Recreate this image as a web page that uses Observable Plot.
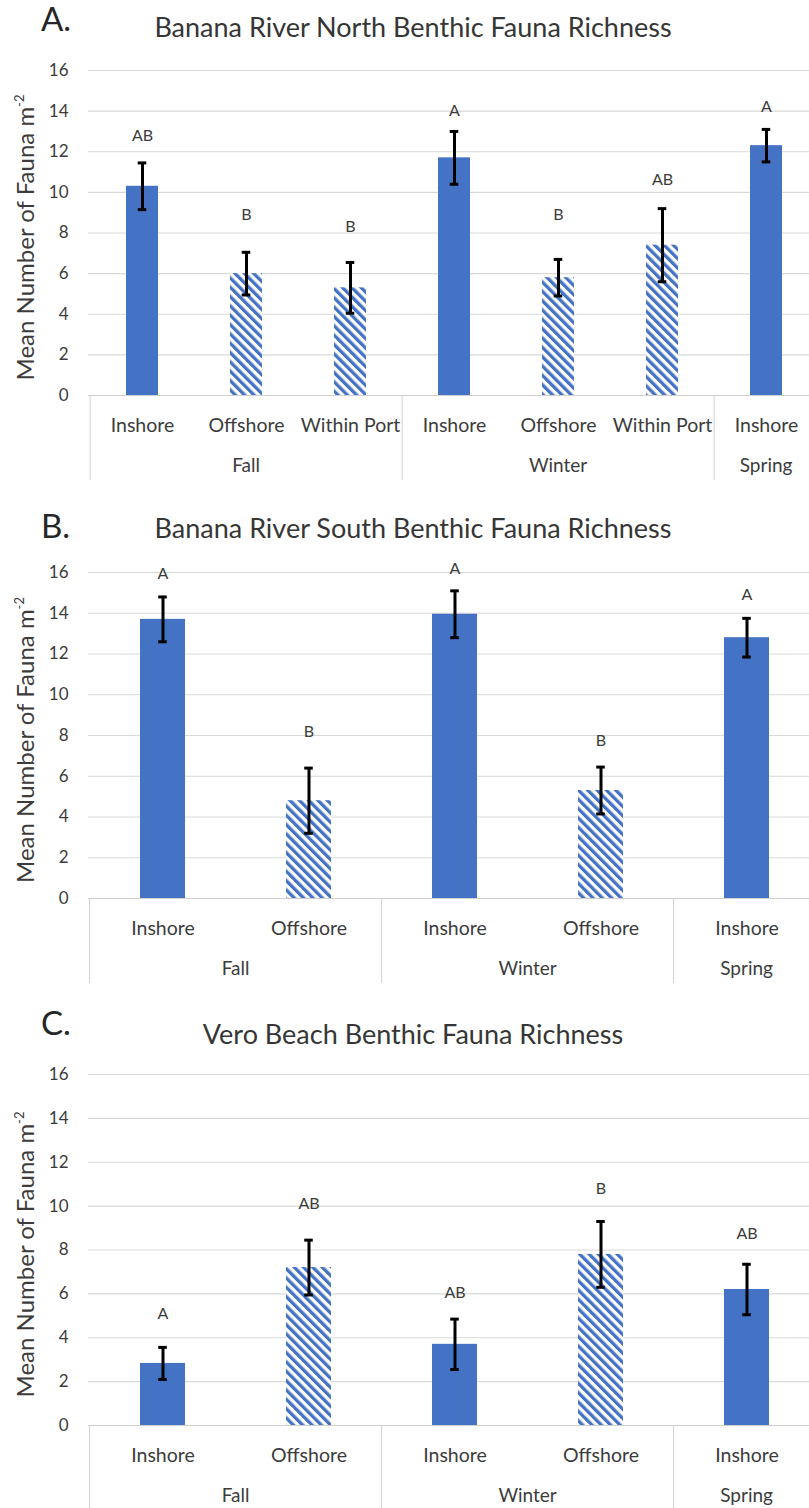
<!DOCTYPE html>
<html><head><meta charset="utf-8">
<script src="https://cdn.jsdelivr.net/npm/d3@7"></script>
<script src="https://cdn.jsdelivr.net/npm/@observablehq/plot@0.6"></script>
<style>
html,body{margin:0;padding:0;background:#fff;}
body{width:809px;height:1508px;overflow:hidden;position:relative;font-family:Lato,"Open Sans",sans-serif;}
.panel{position:absolute;left:0;width:809px;}
.plabel{position:absolute;left:41px;font-size:33px;line-height:33px;color:#262626;}
.ptitle{position:absolute;left:413px;transform:translateX(-50%);font-size:27px;line-height:27px;color:#363636;white-space:nowrap;}
</style></head><body>
<script>
// ---------- data ----------
const yTicks = [0, 2, 4, 6, 8, 10, 12, 14, 16];

const titleA = "Banana River North Benthic Fauna Richness";
const seasonsA = ["Fall", "Fall", "Fall", "Winter", "Winter", "Winter", "Spring"];
const sitesA = ["Inshore", "Offshore", "Within Port", "Inshore", "Offshore", "Within Port", "Inshore"];
const meansA = [10.3, 6.0, 5.3, 11.7, 5.8, 7.4, 12.3];
const errsA = [1.15, 1.05, 1.25, 1.3, 0.9, 1.8, 0.8];
const lettersA = ["AB", "B", "B", "A", "B", "AB", "A"];
const letterYA = [12.8, 8.9, 8.3, 14.0, 8.9, 10.6, 14.2];

const titleB = "Banana River South Benthic Fauna Richness";
const seasonsB = ["Fall", "Fall", "Winter", "Winter", "Spring"];
const sitesB = ["Inshore", "Offshore", "Inshore", "Offshore", "Inshore"];
const meansB = [13.7, 4.8, 13.95, 5.3, 12.8];
const errsB = [1.1, 1.6, 1.15, 1.15, 0.95];
const lettersB = ["A", "B", "A", "B", "A"];
const letterYB = [15.95, 8.2, 16.2, 7.75, 14.9];

const titleC = "Vero Beach Benthic Fauna Richness";
const seasonsC = ["Fall", "Fall", "Winter", "Winter", "Spring"];
const sitesC = ["Inshore", "Offshore", "Inshore", "Offshore", "Inshore"];
const meansC = [2.83, 7.2, 3.7, 7.8, 6.2];
const errsC = [0.73, 1.25, 1.15, 1.5, 1.15];
const lettersC = ["A", "AB", "AB", "B", "AB"];
const letterYC = [5.1, 10.1, 6.05, 10.8, 8.75];

// ---------- style / layout ----------
const BLUE = "#4472C4";
const GRID = "#d9d9d9";
const AXIS = "#d0d0d0";
const TEXT = "#3c3c3c";
const PAD_INNER = 0.69;
const X_RANGE = [88, 821];

const panels = [
  {id: "A", title: titleA, seasons: seasonsA, sites: sitesA, means: meansA, errs: errsA, letters: lettersA, letterY: letterYA,
   top: 50, height: 440, marginTop: 20, marginBottom: 95, labelTop: 2, titleTop: 13},
  {id: "B", title: titleB, seasons: seasonsB, sites: sitesB, means: meansB, errs: errsB, letters: lettersB, letterY: letterYB,
   top: 550, height: 440, marginTop: 22, marginBottom: 92, labelTop: 509, titleTop: 514},
  {id: "C", title: titleC, seasons: seasonsC, sites: sitesC, means: meansC, errs: errsC, letters: lettersC, letterY: letterYC,
   top: 1050, height: 458, marginTop: 24, marginBottom: 83, labelTop: 1006, titleTop: 1020}
];

function hatchDefs(id) {
  return () => {
    const g = d3.create("svg:g");
    const p = g.append("defs").append("pattern")
      .attr("id", id).attr("patternUnits", "userSpaceOnUse")
      .attr("width", 6.6).attr("height", 6.6)
      .attr("patternTransform", "rotate(-45)");
    p.append("rect").attr("width", 6.6).attr("height", 6.6).attr("fill", "white");
    p.append("rect").attr("width", 3.3).attr("height", 6.6).attr("fill", BLUE);
    return g.node();
  };
}

function yLabelMark(index, scales, values, dims) {
  const g = d3.create("svg:g");
  const cy = (dims.marginTop + dims.height - dims.marginBottom) / 2 + 5;
  const t = g.append("text")
    .attr("transform", `translate(34,${cy}) rotate(-90)`)
    .attr("text-anchor", "middle")
    .attr("font-size", 24)
    .attr("fill", TEXT);
  t.append("tspan").text("Mean Number of Fauna m");
  t.append("tspan").attr("dy", -10).attr("font-size", 13).text("-2");
  return g.node();
}

function groupMark(keys, seasons) {
  return (index, scales) => {
    const x = scales.x, y = scales.y;
    const step = x(keys[1]) - x(keys[0]);
    const bw = step * (1 - PAD_INNER);
    const center = k => x(k) + bw / 2;
    const y0 = y(0);
    const g = d3.create("svg:g");
    const groups = d3.groups(keys.map((k, i) => ({k, s: seasons[i]})), d => d.s);
    groups.forEach(([s, items], gi) => {
      const left = center(items[0].k) - step / 2;
      const right = center(items[items.length - 1].k) + step / 2;
      if (gi === 0) {
        g.append("line").attr("x1", left).attr("x2", left).attr("y1", y0).attr("y2", y0 + 85)
          .attr("stroke", AXIS).attr("stroke-width", 1);
      }
      g.append("line").attr("x1", right).attr("x2", right).attr("y1", y0).attr("y2", y0 + 85)
        .attr("stroke", AXIS).attr("stroke-width", 1);
      g.append("text").attr("x", (left + right) / 2).attr("y", y0 + 72)
        .attr("text-anchor", "middle").attr("dominant-baseline", "middle")
        .attr("font-size", 19).attr("fill", TEXT).text(s);
    });
    return g.node();
  };
}

panels.forEach(p => {
  const keys = p.sites.map((s, i) => p.seasons[i] + "|" + s);
  const data = keys.map((k, i) => ({
    key: k, season: p.seasons[i], site: p.sites[i], mean: p.means[i], err: p.errs[i],
    letter: p.letters[i], ly: p.letterY[i]
  }));
  const n = keys.length;
  const bw = (X_RANGE[1] - X_RANGE[0]) / n * (1 - PAD_INNER);
  const capInset = Math.max(0, (bw - 9) / 2);
  const hatchId = "hatch" + p.id;

  const chart = Plot.plot({
    width: 809,
    height: p.height,
    marginLeft: 88,
    marginRight: 0,
    marginTop: p.marginTop,
    marginBottom: p.marginBottom,
    style: {fontFamily: "Lato, 'Open Sans', sans-serif", background: "white", overflow: "visible"},
    x: {type: "band", domain: keys, range: X_RANGE, paddingInner: PAD_INNER, paddingOuter: PAD_INNER / 2, align: 0.5, axis: null},
    y: {domain: [0, 16], axis: null},
    marks: [
      hatchDefs(hatchId),
      Plot.ruleY(yTicks.filter(d => d > 0), {stroke: GRID, strokeWidth: 1.2}),
      Plot.ruleY([0], {stroke: AXIS, strokeWidth: 1.2}),
      Plot.axisY(yTicks, {tickSize: 0, tickPadding: 20, fontSize: 17, color: TEXT, label: null}),
      Plot.barY(data.filter(d => d.site === "Inshore"), {x: "key", y: "mean", fill: BLUE}),
      Plot.barY(data.filter(d => d.site !== "Inshore"), {x: "key", y: "mean", fill: `url(#${hatchId})`}),
      Plot.ruleX(data, {x: "key", y1: d => d.mean - d.err, y2: d => d.mean + d.err, stroke: "black", strokeWidth: 3}),
      Plot.tickY(data, {x: "key", y: d => d.mean + d.err, stroke: "black", strokeWidth: 3, inset: capInset}),
      Plot.tickY(data, {x: "key", y: d => d.mean - d.err, stroke: "black", strokeWidth: 3, inset: capInset}),
      Plot.text(data, {x: "key", y: "ly", text: "letter", fontSize: 16, fill: TEXT}),
      Plot.text(data, {x: "key", y: () => 0, dy: 30, text: "site", fontSize: 19.5, fill: TEXT}),
      groupMark(keys, p.seasons),
      yLabelMark
    ]
  });

  const wrap = document.createElement("div");
  wrap.className = "panel";
  wrap.style.top = p.top + "px";
  wrap.appendChild(chart);
  document.body.appendChild(wrap);

  const lab = document.createElement("div");
  lab.className = "plabel";
  lab.style.top = p.labelTop + "px";
  lab.textContent = p.id + ".";
  document.body.appendChild(lab);

  const tt = document.createElement("div");
  tt.className = "ptitle";
  tt.style.top = p.titleTop + "px";
  tt.textContent = p.title;
  document.body.appendChild(tt);
});
</script>
</body></html>
